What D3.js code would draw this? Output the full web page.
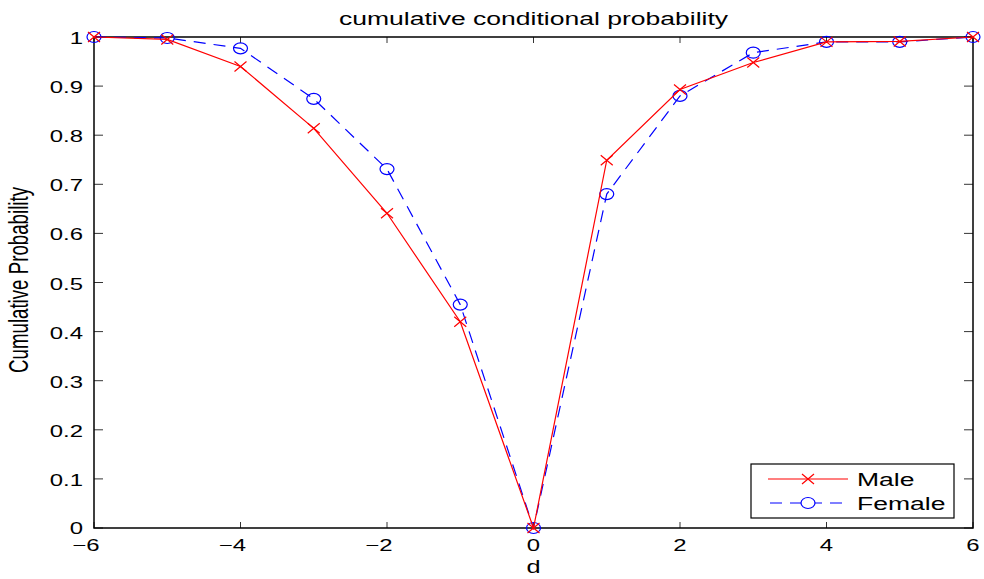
<!DOCTYPE html>
<html>
<head>
<meta charset="utf-8">
<script src="https://cdn.jsdelivr.net/npm/d3@7"></script>
<style>
  body { margin: 0; background: #fff; }
  text { font-family: "Liberation Sans", Arial, sans-serif; fill: #000; }
</style>
</head>
<body>
<script>
// donnees
const dValues = [-6, -5, -4, -3, -2, -1, 0, 1, 2, 3, 4, 5, 6];
const male = [1, 0.995, 0.94, 0.814, 0.641, 0.42, 0, 0.749, 0.893, 0.948, 0.99, 0.991, 1];
const female = [1, 0.998, 0.977, 0.874, 0.731, 0.455, 0, 0.68, 0.88, 0.968, 0.99, 0.99, 1];
const xTicks = [-6, -4, -2, 0, 2, 4, 6];
const yTicks = [0, 0.1, 0.2, 0.3, 0.4, 0.5, 0.6, 0.7, 0.8, 0.9, 1];

const W = 984, H = 579;
const mLeft = 94, mRight = 973, mTop = 37, mBottom = 528;
const SX = 1.45; // l'image d'origine est etiree horizontalement

const svg = d3.select("body").append("svg").attr("width", W).attr("height", H);

const x = d3.scaleLinear().domain([-6, 6]).range([mLeft, mRight]);
const y = d3.scaleLinear().domain([0, 1]).range([mBottom, mTop]);

// texte etire
const label = (g, tx, ty, str, size, anchor, rot) => g.append("text")
  .attr("transform", `translate(${tx},${ty}) scale(${SX},1)` + (rot ? " rotate(-90)" : ""))
  .attr("text-anchor", anchor).attr("font-size", size).text(str);

// ticks (vers l'interieur, sur les 4 cotes)
const tickG = svg.append("g").attr("stroke", "#000").attr("stroke-width", 0.8);
xTicks.forEach(t => {
  tickG.append("line").attr("x1", x(t)).attr("x2", x(t)).attr("y1", mBottom).attr("y2", mBottom - 6);
  tickG.append("line").attr("x1", x(t)).attr("x2", x(t)).attr("y1", mTop).attr("y2", mTop + 6);
});
yTicks.forEach(t => {
  tickG.append("line").attr("x1", mLeft).attr("x2", mLeft + 9).attr("y1", y(t)).attr("y2", y(t));
  tickG.append("line").attr("x1", mRight).attr("x2", mRight - 9).attr("y1", y(t)).attr("y2", y(t));
});

// cadre
svg.append("rect").attr("x", mLeft).attr("y", mTop).attr("width", mRight - mLeft).attr("height", mBottom - mTop)
  .attr("fill", "none").attr("stroke", "#000").attr("stroke-width", 1.5);

// labels des ticks
xTicks.forEach(t => {
  label(svg, t < 0 ? x(t) - 8 : x(t), 551, t < 0 ? "\u2212" + Math.abs(t) : t, 16.5, "middle");
});
yTicks.forEach(t => {
  label(svg, 83, t === 0 ? y(t) + 6 : y(t) + 7, t, 16.5, "end");
});

// titres
label(svg, (mLeft + mRight) / 2, 25, "cumulative conditional probability", 18.3, "middle");
label(svg, (mLeft + mRight) / 2, 573, "d", 17.5, "middle");
label(svg, 28, 280, "Cumulative Probability", 18.7, "middle", true);

const line = d3.line().x((d, i) => x(dValues[i])).y(d => y(d));

// Female
svg.append("path").datum(female).attr("d", line).attr("fill", "none")
  .attr("stroke", "#0000ff").attr("stroke-width", 1.2).attr("stroke-dasharray", "12,8");
svg.selectAll(".fm").data(female).enter().append("ellipse")
  .attr("cx", (d, i) => x(dValues[i])).attr("cy", d => y(d)).attr("rx", 7).attr("ry", 5.5)
  .attr("fill", "none").attr("stroke", "#0000ff").attr("stroke-width", 1.2);

// Male
svg.append("path").datum(male).attr("d", line).attr("fill", "none")
  .attr("stroke", "#ff0000").attr("stroke-width", 1.2);
const cross = (g, cx, cy) => {
  g.append("path").attr("d", `M${cx - 6},${cy - 5}L${cx + 6},${cy + 5}M${cx - 6},${cy + 5}L${cx + 6},${cy - 5}`)
    .attr("stroke", "#ff0000").attr("stroke-width", 1.2).attr("fill", "none");
};
const mg = svg.append("g");
male.forEach((d, i) => cross(mg, x(dValues[i]), y(d)));

// legende
const lg = svg.append("g");
lg.append("rect").attr("x", 751).attr("y", 464).attr("width", 203).attr("height", 54)
  .attr("fill", "#fff").attr("stroke", "#000").attr("stroke-width", 1.2);
lg.append("line").attr("x1", 768).attr("x2", 848).attr("y1", 479).attr("y2", 479)
  .attr("stroke", "#ff0000").attr("stroke-width", 1.2);
cross(lg, 808, 479);
lg.append("line").attr("x1", 768).attr("x2", 848).attr("y1", 503).attr("y2", 503)
  .attr("stroke", "#0000ff").attr("stroke-width", 1.2).attr("stroke-dasharray", "12,8").attr("stroke-dashoffset", -2);
lg.append("ellipse").attr("cx", 808).attr("cy", 503).attr("rx", 7).attr("ry", 5.5)
  .attr("fill", "#fff").attr("stroke", "#0000ff").attr("stroke-width", 1.2);
label(lg, 857, 486, "Male", 18.3, "start");
label(lg, 857, 510, "Female", 18.3, "start");
</script>
</body>
</html>
